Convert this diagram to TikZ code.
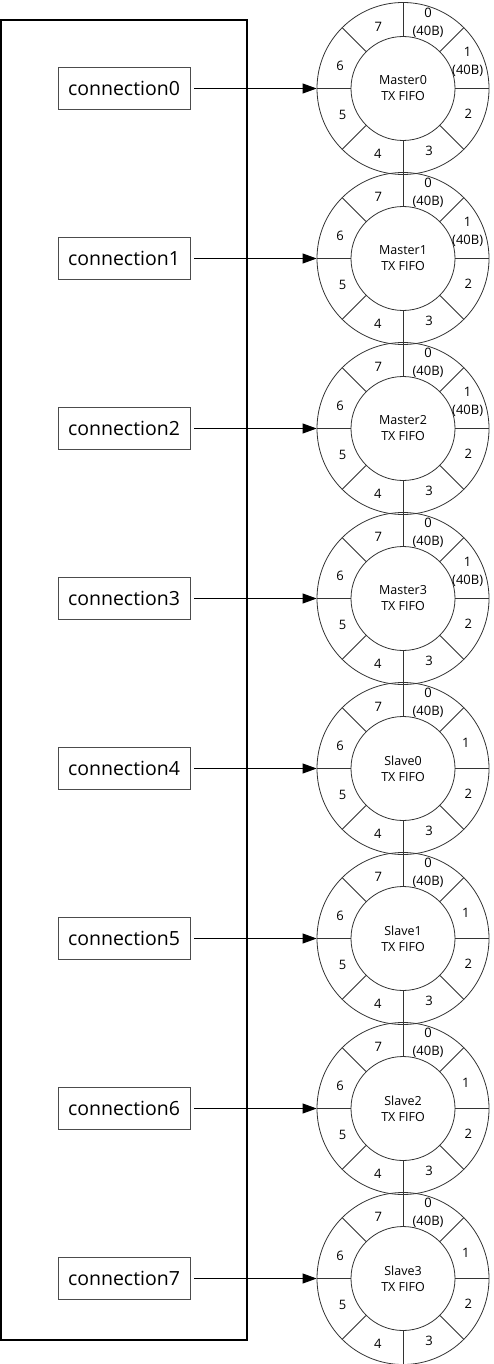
\documentclass[tikz,border=0pt]{standalone}
\usepackage{fontspec}
\setmainfont{Open Sans}
\usetikzlibrary{arrows.meta,calc}
\begin{document}
\begin{tikzpicture}[x=1pt,y=-1pt,
  connbox/.style={draw=black!70, line width=0.8pt, minimum width=132pt, minimum height=42pt, inner sep=0pt, font=\fontsize{19.5}{22}\selectfont},
  ringline/.style={draw=black!80, line width=0.8pt},
  slotlbl/.style={font=\fontsize{13}{18}\selectfont, align=center, inner sep=0pt},
  conn/.style={draw=black, line width=0.8pt, -{Triangle[length=14pt,width=10pt]}}
]
\useasboundingbox (0,0) rectangle (493,1364);
\node[draw=black, line width=1.3pt, minimum width=246pt, minimum height=1320pt, inner sep=0pt] (frame) at (124,680) {};
\foreach \i/\nm/\big in {0/Master0/1,1/Master1/1,2/Master2/1,3/Master3/1,4/Slave0/0,5/Slave1/0,6/Slave2/0,7/Slave3/0}{
  \pgfmathsetmacro{\yy}{88.5+170*\i}
  \node[connbox] (c\i) at (124,\yy) {connection\i};
  \node[circle, ringline, minimum size=172pt, inner sep=0pt] (r\i) at (403,\yy) {};
  \node[circle, ringline, minimum size=104pt, inner sep=0pt, align=center, font=\fontsize{12.5}{16}\selectfont] (f\i) at (403,\yy) {\nm\\TX FIFO};
  \foreach \a in {0,45,...,315}{
    \draw[ringline] (f\i.\a) -- (r\i.\a);
  }
  \node[slotlbl] (s\i-0) at ($(403,\yy)+(-69:70)$) {0\\(40B)};
  \ifnum\big=1
    \node[slotlbl] (s\i-1) at ($(403,\yy)+(-22.5:70)$) {1\\(40B)};
  \else
    \node[slotlbl] (s\i-1) at ($(403,\yy)+(-22.5:68)$) {1};
  \fi
  \node[slotlbl] (s\i-2) at ($(403,\yy)+(21:70)$) {2};
  \node[slotlbl] (s\i-3) at ($(403,\yy)+(67.5:68)$) {3};
  \node[slotlbl] (s\i-4) at ($(403,\yy)+(111:70)$) {4};
  \node[slotlbl] (s\i-5) at ($(403,\yy)+(156:66)$) {5};
  \node[slotlbl] (s\i-6) at ($(403,\yy)+(-160:67)$) {6};
  \node[slotlbl] (s\i-7) at ($(403,\yy)+(-112:66)$) {7};
  \draw[conn] ([xshift=4pt]c\i.east) -- (r\i.west);
}
\end{tikzpicture}
\end{document}
